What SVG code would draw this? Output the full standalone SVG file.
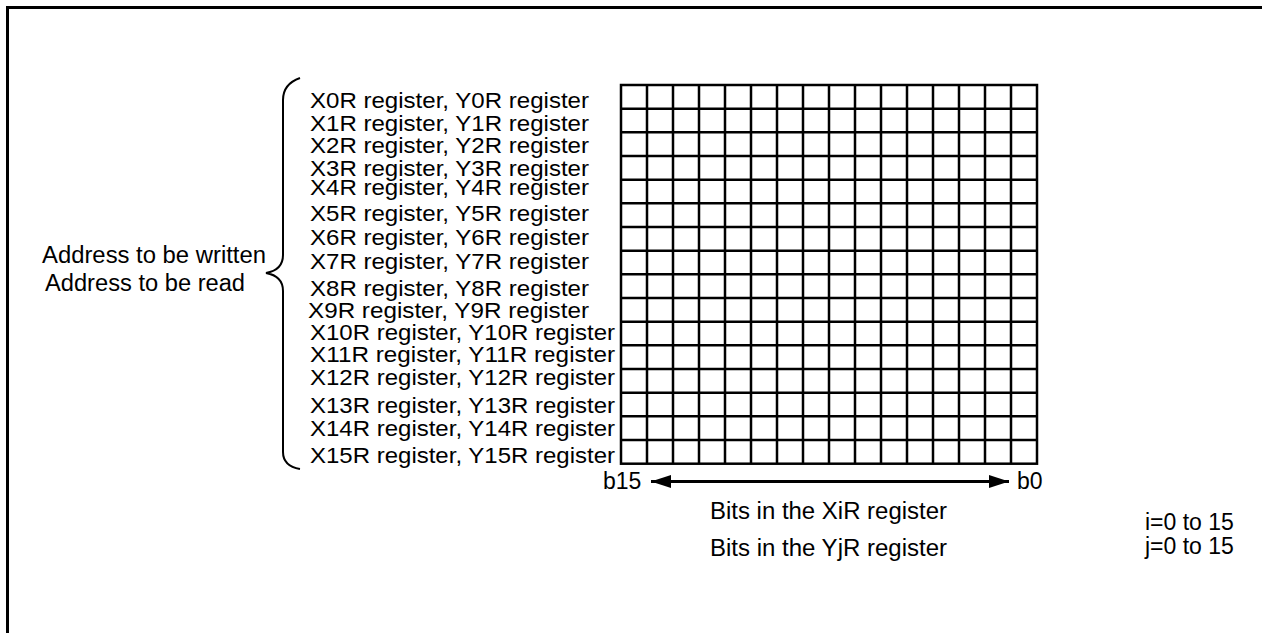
<svg xmlns="http://www.w3.org/2000/svg" width="1262" height="633" viewBox="0 0 1262 633">
<style>
.t{font-family:"Liberation Sans",Arial,sans-serif;fill:#000}
.r{font-size:21.5px}
.m{font-size:23px}
.g{stroke:#000;stroke-width:2.5;fill:none}
</style>
<defs>
<marker id="ah" viewBox="0 0 20 13" refX="20" refY="6.5" markerWidth="20" markerHeight="13" markerUnits="userSpaceOnUse" orient="auto-start-reverse">
<path d="M0,0 L20,6.5 L0,13 Z" fill="#000"/>
</marker>
</defs>
<rect width="1262" height="633" fill="#fff"/>
<path d="M7.5,633 V7.5 H1262" fill="none" stroke="#000" stroke-width="3"/>
<g id="grid">
<rect x="621" y="85" width="416" height="378.7" class="g"/>
<path class="g" d="M647,85V463.7M673,85V463.7M699,85V463.7M725,85V463.7M751,85V463.7M777,85V463.7M803,85V463.7M829,85V463.7M855,85V463.7M881,85V463.7M907,85V463.7M933,85V463.7M959,85V463.7M985,85V463.7M1011,85V463.7"/>
<path class="g" d="M621,108.7H1037M621,132.3H1037M621,156H1037M621,179.7H1037M621,203.3H1037M621,227H1037M621,250.7H1037M621,274.3H1037M621,298H1037M621,321.7H1037M621,345.3H1037M621,369H1037M621,392.7H1037M621,416.3H1037M621,440H1037"/>
</g>
<g id="labels">
<text class="t r" x="310" y="107.5" textLength="279" lengthAdjust="spacingAndGlyphs">X0R register, Y0R register</text>
<text class="t r" x="310" y="130.5" textLength="279" lengthAdjust="spacingAndGlyphs">X1R register, Y1R register</text>
<text class="t r" x="310" y="153" textLength="279" lengthAdjust="spacingAndGlyphs">X2R register, Y2R register</text>
<text class="t r" x="310" y="175.5" textLength="279" lengthAdjust="spacingAndGlyphs">X3R register, Y3R register</text>
<text class="t r" x="310" y="194.5" textLength="279" lengthAdjust="spacingAndGlyphs">X4R register, Y4R register</text>
<text class="t r" x="310" y="221" textLength="279" lengthAdjust="spacingAndGlyphs">X5R register, Y5R register</text>
<text class="t r" x="310" y="245" textLength="279" lengthAdjust="spacingAndGlyphs">X6R register, Y6R register</text>
<text class="t r" x="310" y="269" textLength="279" lengthAdjust="spacingAndGlyphs">X7R register, Y7R register</text>
<text class="t r" x="310" y="296" textLength="279" lengthAdjust="spacingAndGlyphs">X8R register, Y8R register</text>
<text class="t r" x="308" y="317.5" textLength="281" lengthAdjust="spacingAndGlyphs">X9R register, Y9R register</text>
<text class="t r" x="310" y="339.5" textLength="305" lengthAdjust="spacingAndGlyphs">X10R register, Y10R register</text>
<text class="t r" x="310" y="362" textLength="305" lengthAdjust="spacingAndGlyphs">X11R register, Y11R register</text>
<text class="t r" x="310" y="385" textLength="305" lengthAdjust="spacingAndGlyphs">X12R register, Y12R register</text>
<text class="t r" x="310" y="413" textLength="305" lengthAdjust="spacingAndGlyphs">X13R register, Y13R register</text>
<text class="t r" x="310" y="435.5" textLength="305" lengthAdjust="spacingAndGlyphs">X14R register, Y14R register</text>
<text class="t r" x="310" y="463" textLength="305" lengthAdjust="spacingAndGlyphs">X15R register, Y15R register</text>
</g>
<g id="brace">
<path d="M300,78 Q283,84 283,100 L283,255 Q283,270 266,273 Q283,276 283,291 L283,452 Q283,466 300,469" fill="none" stroke="#000" stroke-width="2"/>
</g>
<g id="address">
<text class="t m" x="42" y="263" textLength="224" lengthAdjust="spacingAndGlyphs">Address to be written</text>
<text class="t m" x="45" y="291" textLength="200" lengthAdjust="spacingAndGlyphs">Address to be read</text>
</g>
<g id="connectors">
<line x1="651" y1="481.5" x2="1009" y2="481.5" stroke="#000" stroke-width="3" marker-start="url(#ah)" marker-end="url(#ah)"/>
</g>
<g id="bits">
<text class="t m" x="603" y="489">b15</text>
<text class="t m" x="1017" y="489">b0</text>
<text class="t m" x="710" y="519" textLength="237" lengthAdjust="spacingAndGlyphs">Bits in the XiR register</text>
<text class="t m" x="710" y="556" textLength="237" lengthAdjust="spacingAndGlyphs">Bits in the YjR register</text>
</g>
<g id="range">
<text class="t m" x="1145" y="530">i=0 to 15</text>
<text class="t m" x="1145" y="554">j=0 to 15</text>
</g>
</svg>
